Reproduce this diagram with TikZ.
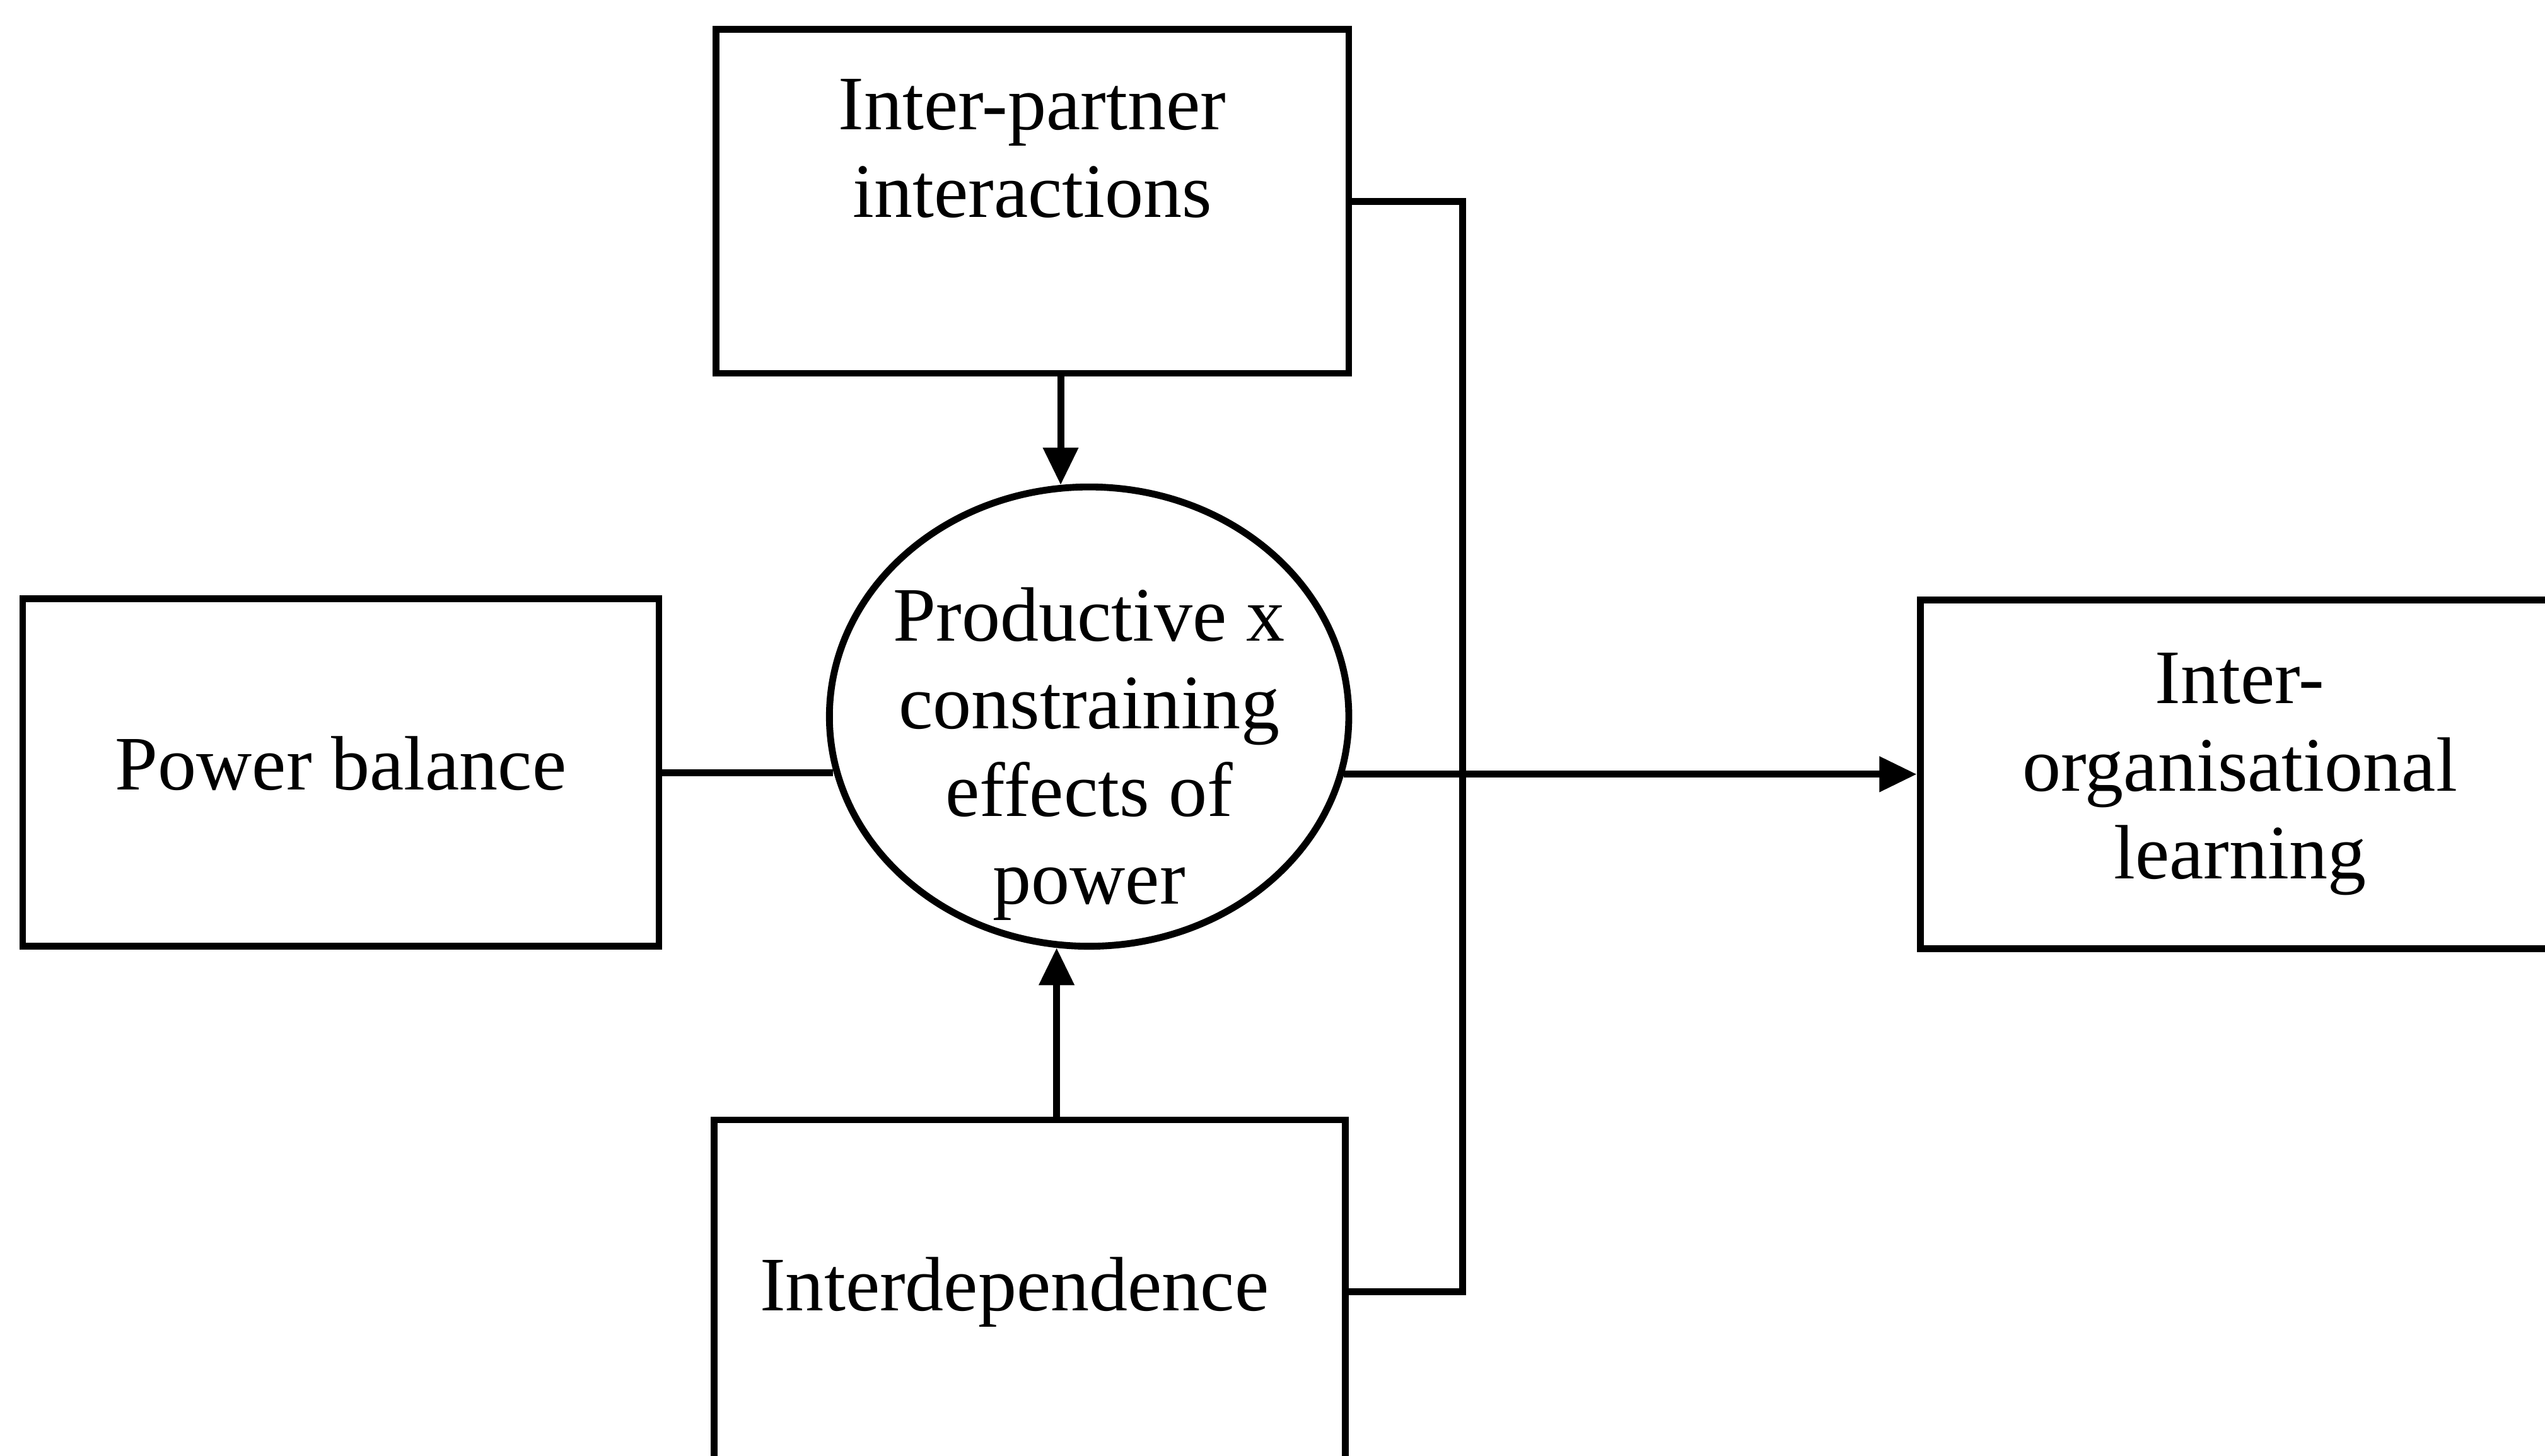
\documentclass[tikz,border=0pt]{standalone}
\usepackage{fontspec}
\setmainfont{Liberation Serif}
\usetikzlibrary{shapes.geometric, arrows.meta}

\begin{document}
\begin{tikzpicture}[line width=1.2pt,
    box/.style={rectangle, draw},
    txt/.style={align=center, font=\fontsize{13.5}{15.4}\selectfont},
    arr/.style={-{Triangle[length=2.3mm, width=2.1mm]}}]
    \useasboundingbox (0,0) rectangle (15.68,8.97);

    \node[box, minimum width=3.9cm, minimum height=2.12cm] (interact) at (6.36,7.73) {};
    \node[txt] (interact-txt) at (6.36,8.055) {Inter-partner\\interactions};
    \node[box, txt, text depth=0.12cm, minimum width=3.92cm, minimum height=2.14cm] (balance) at (2.10,4.21) {Power balance};
    \node[ellipse, draw, minimum width=3.2cm, minimum height=2.83cm] (effects) at (6.71,4.555) {};
    \node[txt] (effects-txt) at (6.71,4.325) {Productive x\\constraining\\effects of\\power};
    \node[box, minimum width=3.89cm, minimum height=2.12cm] (interdep) at (6.345,1.01) {};
    \node[txt] (interdep-txt) at (6.25,1.01) {Interdependence};
    \node[box, txt, minimum width=3.94cm, minimum height=2.15cm] (learning) at (13.80,4.2) {Inter-\\organisational\\learning};
    \coordinate (loop) at (9.01,4.2);

    \draw (balance.east) -- (balance.east -| effects.192.5);
    \draw[arr] (effects.97.3 |- interact.south) -- (effects.97.3);
    \draw[arr] (effects.262.7 |- interdep.north) -- (effects.262.7);
    \draw[arr] (learning.west -| effects.347) -- (learning.west);
    \draw (interact.east) -| (loop) |- (interdep.east);
\end{tikzpicture}
\end{document}
